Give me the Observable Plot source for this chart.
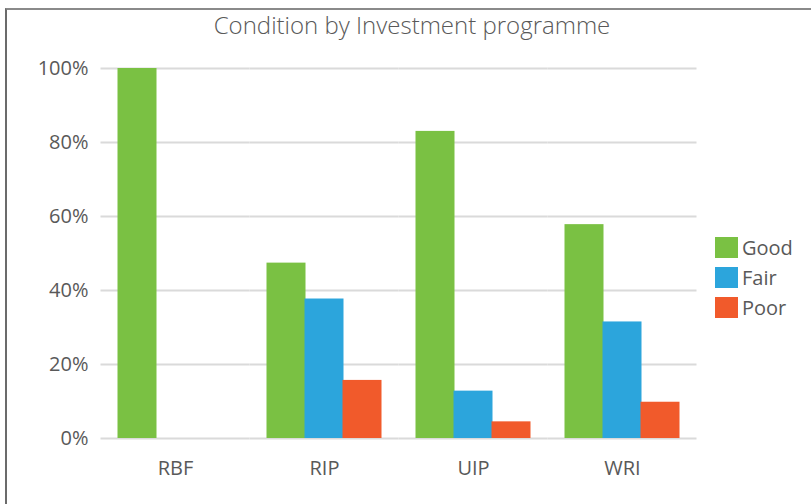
<!DOCTYPE html>
<html>
<head>
<meta charset="utf-8">
<script src="https://cdn.jsdelivr.net/npm/d3@7"></script>
<script src="https://cdn.jsdelivr.net/npm/@observablehq/plot@0.6"></script>
<style>
  html, body { margin: 0; padding: 0; background: #fff; }
  #wrap { position: relative; width: 811px; height: 504px; overflow: hidden; font-family: "Open Sans", sans-serif; }
  #frame { position: absolute; left: 5px; top: 8px; width: 820px; height: 520px; border-left: 2px solid #6b6b6b; border-top: 2px solid #8a8a8a; box-sizing: border-box; pointer-events: none; }
  #title { position: absolute; left: 0; width: 824px; top: 8px; text-align: center; font-size: 24px; color: #595959; font-family: "Open Sans", sans-serif; font-weight: 300; }
  #legend { position: absolute; left: 715px; top: 232px; color: #595959; font-size: 20px; }
  .item { display: flex; align-items: center; height: 30px; }
  .sw { width: 23px; height: 21px; margin-right: 4px; }
</style>
</head>
<body>
<div id="wrap">
  <div id="chart"></div>
  <div id="frame"></div>
  <div id="title">Condition by Investment programme</div>
  <div id="legend"></div>
</div>
<script>
const programmes = ["RBF", "RIP", "UIP", "WRI"];
const conditions = ["Good", "Fair", "Poor"];
const colors = ["#7AC143", "#2CA5DC", "#F15A2B"];
const good = [1.00, 0.474, 0.830, 0.578];
const fair = [0.00, 0.377, 0.128, 0.315];
const poor = [0.00, 0.157, 0.045, 0.098];
const yTicks = [0, 0.2, 0.4, 0.6, 0.8, 1.0];

const series = {Good: good, Fair: fair, Poor: poor};
const rows = [];
programmes.forEach((p, i) => {
  conditions.forEach(c => rows.push({programme: p, condition: c, value: series[c][i]}));
});

const chart = Plot.plot({
  width: 811,
  height: 504,
  marginLeft: 100,
  marginRight: 115,
  marginTop: 68,
  marginBottom: 66,
  style: {fontFamily: "Open Sans, sans-serif", fontSize: "17px", color: "#595959", background: "transparent"},
  fx: {domain: programmes, paddingInner: 0.235, paddingOuter: 0.1175, label: null, axis: null},
  x: {domain: conditions, padding: 0, axis: null},
  y: {domain: [0, 1], axis: null},
  color: {domain: conditions, range: colors},
  marks: [
    Plot.ruleY(yTicks, {stroke: "#dadada", strokeWidth: 2, insetLeft: -17.5, insetRight: -17.5}),
    Plot.barY(rows, {fx: "programme", x: "condition", y: "value", fill: "condition", insetLeft: -0.5, insetRight: -0.5}),
    Plot.axisY(yTicks, {tickSize: 0, tickPadding: 30, tickFormat: d3.format(".0%"), fontSize: 20, fill: "#595959", label: null}),
    Plot.axisFx({anchor: "bottom", tickSize: 0, tickPadding: 22, fontSize: 20, fill: "#595959", label: null})
  ]
});
document.getElementById("chart").appendChild(chart);

const legend = document.getElementById("legend");
conditions.forEach((c, i) => {
  const item = document.createElement("div");
  item.className = "item";
  const sw = document.createElement("div");
  sw.className = "sw";
  sw.style.background = colors[i];
  const t = document.createElement("span");
  t.textContent = c;
  item.appendChild(sw);
  item.appendChild(t);
  legend.appendChild(item);
});
</script>
</body>
</html>
